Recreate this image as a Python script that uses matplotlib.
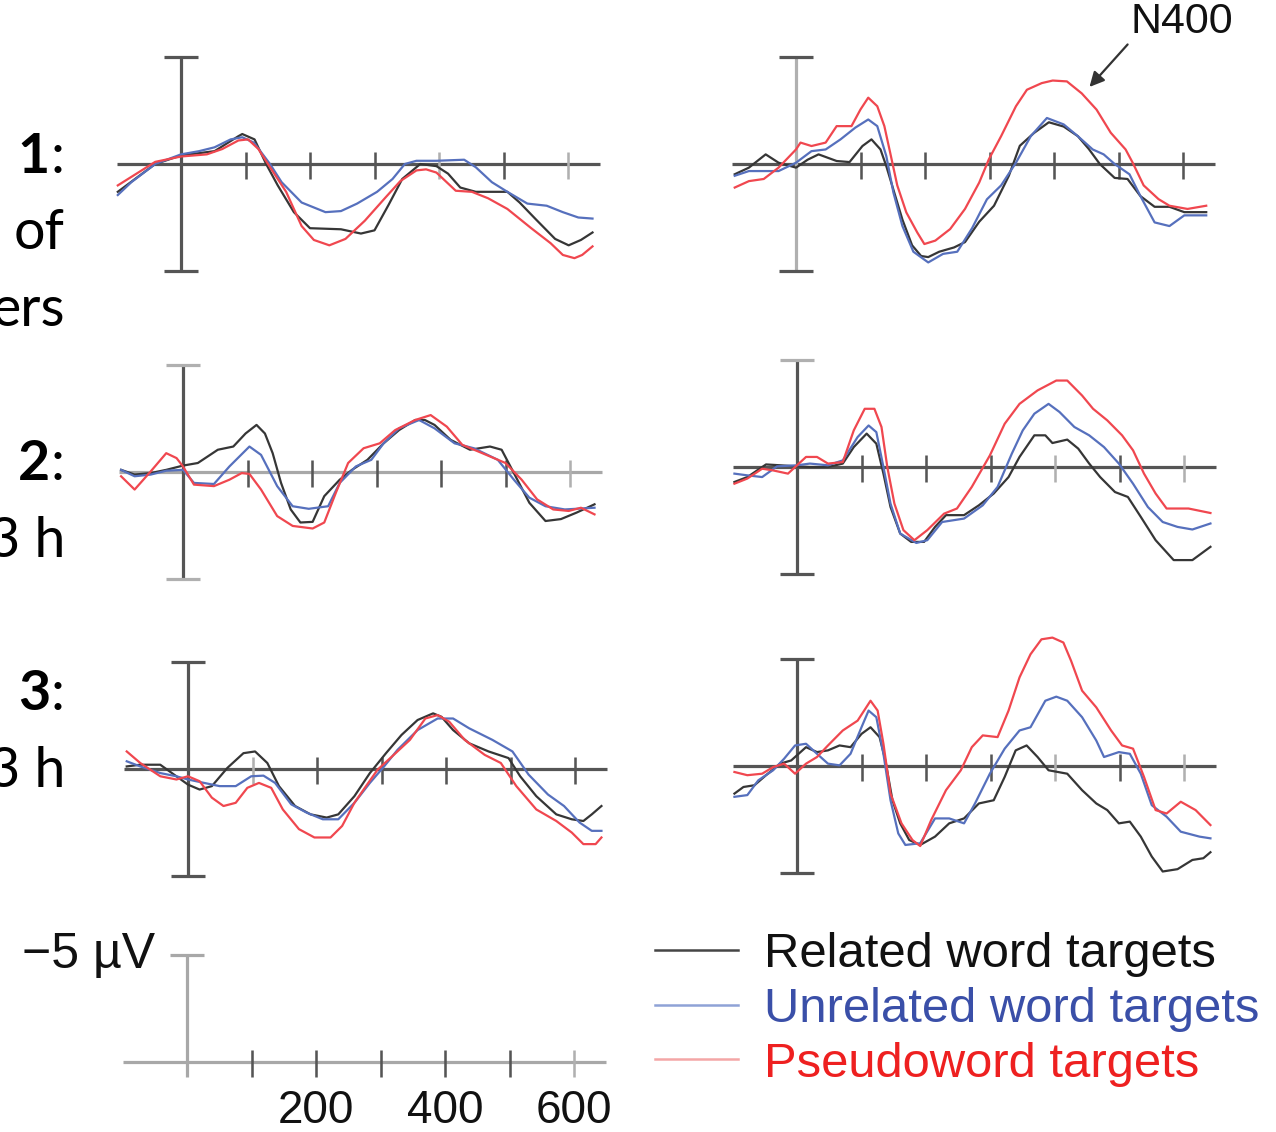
import matplotlib
matplotlib.use("Agg")
import matplotlib.pyplot as plt
from matplotlib.lines import Line2D

W, H, DPI = 1276, 1132, 100

# ---------------------------------------------------------------------------
# Grand-average ERP waveforms (time in ms, amplitude in µV; negative is up)
# Row 1 = session 1, row 2 = session 2, row 3 = session 3
# ---------------------------------------------------------------------------
# Session 1, left site
rel_1l_t = [-98, -40, 0, 52, 89, 95, 114, 132, 150, 175, 200, 248, 279, 300, 322, 343, 371, 396, 414, 433, 457, 506, 525, 549, 580, 601, 620, 638]
rel_1l_v = [1.3, 0, -0.4, -0.6, -1.3, -1.4, -1.15, 0, 1.0, 2.25, 3.0, 3.05, 3.25, 3.1, 1.9, 0.7, 0, 0.1, 0.45, 1.1, 1.3, 1.3, 1.8, 2.55, 3.5, 3.8, 3.55, 3.2]
unr_1l_t = [-98, -77, -40, 0, 28, 52, 77, 95, 113, 138, 156, 187, 224, 248, 273, 304, 328, 347, 365, 396, 439, 457, 482, 506, 537, 567, 592, 616, 638]
unr_1l_v = [1.45, 0.85, 0, -0.45, -0.6, -0.78, -1.15, -1.25, -1.0, 0, 0.85, 1.8, 2.25, 2.2, 1.85, 1.3, 0.7, 0, -0.15, -0.15, -0.2, 0.15, 0.85, 1.3, 1.85, 1.95, 2.25, 2.5, 2.55]
pse_1l_t = [-98, -70, -40, 0, 40, 64, 89, 104, 120, 138, 163, 187, 206, 230, 255, 285, 316, 340, 365, 380, 396, 426, 451, 476, 506, 543, 573, 592, 610, 622, 638]
pse_1l_v = [1.0, 0.47, -0.1, -0.35, -0.45, -0.7, -1.1, -1.15, -0.7, 0.15, 1.3, 2.9, 3.55, 3.8, 3.5, 2.65, 1.6, 0.8, 0.3, 0.25, 0.4, 1.25, 1.3, 1.6, 2.1, 3.0, 3.7, 4.25, 4.4, 4.25, 3.85]

# Session 1, right site
rel_1r_t = [-95, -73, -47, -27, 0, 18, 35, 63, 83, 103, 117, 131, 140, 151, 165, 180, 194, 205, 222, 245, 262, 284, 307, 330, 347, 369, 392, 415, 437, 454, 471, 494, 514, 534, 556, 579, 602, 636]
rel_1r_v = [0.48, 0.17, -0.45, -0.06, 0.17, -0.2, -0.45, -0.14, -0.09, -0.84, -1.15, -0.68, 0.1, 1.2, 2.6, 3.8, 4.3, 4.35, 4.1, 3.9, 3.65, 2.7, 1.95, 0.55, -0.85, -1.45, -1.95, -1.75, -1.3, -0.7, 0, 0.65, 0.7, 1.5, 2.0, 2.0, 2.25, 2.25]
unr_1r_t = [-95, -73, -50, -27, 0, 24, 46, 69, 92, 112, 126, 140, 151, 165, 182, 205, 228, 250, 273, 296, 318, 341, 364, 389, 415, 437, 460, 477, 494, 517, 534, 556, 579, 602, 636]
unr_1r_v = [0.55, 0.33, 0.33, 0.33, -0.06, -0.6, -0.68, -1.15, -1.7, -2.08, -1.77, -0.37, 1.33, 2.9, 4.1, 4.6, 4.2, 4.1, 3.0, 1.65, 1.0, -0.06, -1.3, -2.15, -1.85, -1.3, -0.68, -0.45, 0, 0.48, 1.5, 2.73, 2.9, 2.4, 2.4]
pse_1r_t = [-95, -73, -50, -27, 0, 7, 24, 46, 63, 86, 100, 112, 126, 137, 146, 157, 171, 188, 199, 216, 239, 262, 284, 299, 318, 341, 358, 381, 398, 420, 443, 466, 488, 511, 522, 539, 562, 579, 607, 636]
pse_1r_v = [1.1, 0.8, 0.7, 0.17, -0.68, -1.0, -0.84, -1.0, -1.77, -1.77, -2.55, -3.1, -2.7, -1.77, -0.53, 1.0, 2.26, 3.2, 3.74, 3.58, 3.04, 2.1, 0.87, -0.22, -1.3, -2.7, -3.47, -3.78, -3.9, -3.86, -3.3, -2.54, -1.46, -0.68, -0.06, 1.0, 1.64, 1.95, 2.1, 1.95]

# Session 2, left site
rel_2l_t = [-96, -75, -50, -26, 0, 23, 54, 78, 97, 114, 127, 139, 152, 167, 182, 201, 219, 243, 262, 286, 311, 335, 360, 375, 390, 415, 445, 476, 494, 513, 537, 562, 586, 610, 638]
rel_2l_v = [-0.1, 0.12, 0.05, -0.1, -0.3, -0.42, -1.04, -1.19, -1.8, -2.2, -1.8, -0.88, 0.51, 1.75, 2.36, 2.33, 1.13, 0.36, -0.1, -0.57, -1.34, -1.96, -2.43, -2.43, -2.2, -1.5, -1.04, -1.19, -1.04, 0.05, 1.44, 2.29, 2.2, 1.9, 1.51]
unr_2l_t = [-96, -75, -50, -26, 0, 17, 48, 72, 103, 121, 146, 170, 195, 225, 243, 268, 292, 311, 335, 366, 390, 421, 451, 488, 513, 537, 562, 592, 638]
unr_2l_v = [-0.1, 0.2, 0.12, -0.06, -0.1, 0.51, 0.56, -0.26, -1.19, -0.8, 0.66, 1.6, 1.72, 1.6, 0.51, -0.26, -0.57, -1.34, -2.04, -2.43, -2.04, -1.34, -1.11, -0.57, 0.36, 1.2, 1.6, 1.75, 1.67]
pse_2l_t = [-96, -75, -50, -26, -10, 0, 17, 48, 72, 91, 103, 121, 146, 170, 201, 219, 237, 256, 280, 305, 329, 360, 384, 409, 433, 464, 500, 525, 549, 574, 598, 617, 638]
pse_2l_v = [0.2, 0.82, -0.03, -0.88, -0.65, -0.26, 0.59, 0.66, 0.36, 0.05, 0.09, 0.82, 2.06, 2.52, 2.64, 2.36, 0.97, -0.42, -1.11, -1.34, -1.96, -2.43, -2.66, -2.12, -1.27, -0.88, -0.42, 0.36, 1.28, 1.75, 1.82, 1.67, 1.98]

# Session 2, right site
rel_2r_t = [-97, -77, -48, -26, 0, 20, 48, 71, 88, 108, 123, 134, 145, 160, 177, 197, 214, 231, 259, 282, 305, 328, 345, 368, 385, 396, 419, 436, 453, 470, 493, 513, 533, 556, 584, 613, 641]
rel_2r_v = [0.7, 0.47, -0.12, -0.08, -0.03, 0, 0, -0.16, -0.93, -1.56, -1.09, 0.31, 1.87, 3.11, 3.5, 3.5, 2.8, 2.25, 2.25, 1.79, 1.24, 0.47, -0.47, -1.48, -1.48, -1.12, -1.28, -0.86, -0.16, 0.47, 1.17, 1.4, 2.33, 3.42, 4.35, 4.35, 3.73]
unr_2r_t = [-97, -77, -54, -31, 0, 20, 48, 71, 94, 111, 123, 134, 145, 160, 185, 202, 225, 259, 288, 311, 333, 350, 368, 390, 407, 430, 453, 476, 499, 521, 544, 567, 590, 613, 641]
unr_2r_v = [0.31, 0.39, 0.47, -0.03, -0.08, -0.16, -0.08, -0.31, -1.4, -1.94, -1.63, 0, 1.71, 3.11, 3.55, 3.42, 2.57, 2.41, 1.79, 0.93, -0.62, -1.71, -2.49, -2.95, -2.57, -1.87, -1.48, -0.93, -0.16, 0.78, 1.87, 2.57, 2.8, 2.92, 2.64]
pse_2r_t = [-97, -77, -54, -37, -14, 0, 14, 31, 48, 71, 88, 105, 120, 131, 140, 151, 165, 182, 202, 228, 248, 271, 299, 322, 345, 373, 402, 419, 442, 459, 481, 504, 521, 538, 556, 573, 607, 641]
pse_2r_v = [0.78, 0.54, 0.08, 0.16, 0.31, -0.08, -0.47, -0.47, -0.16, -0.23, -1.71, -2.72, -2.72, -1.87, 0, 1.71, 2.95, 3.42, 2.95, 2.18, 1.94, 0.93, -0.54, -2.02, -2.95, -3.58, -4.04, -4.04, -3.34, -2.72, -2.18, -1.48, -0.78, 0.31, 1.24, 1.94, 1.94, 2.15]

# Session 3, left site
rel_3l_t = [-95, -74, -43, -18, 0, 18, 37, 61, 86, 104, 123, 141, 166, 190, 215, 233, 258, 282, 307, 331, 356, 380, 393, 411, 436, 466, 497, 515, 540, 571, 595, 613, 626, 641]
rel_3l_v = [-0.12, -0.2, -0.2, 0.34, 0.73, 0.96, 0.8, -0.05, -0.74, -0.82, -0.28, 0.8, 1.73, 2.12, 2.27, 2.12, 1.27, 0.19, -0.74, -1.59, -2.29, -2.6, -2.44, -1.82, -1.2, -0.82, -0.51, 0.34, 1.27, 2.12, 2.35, 2.43, 2.12, 1.73]
unr_3l_t = [-95, -74, -43, -18, 0, 25, 49, 74, 98, 117, 135, 160, 184, 209, 233, 258, 282, 304, 325, 356, 387, 411, 436, 472, 503, 528, 558, 583, 607, 626, 641]
unr_3l_v = [-0.36, -0.12, 0.19, 0.34, 0.49, 0.65, 0.8, 0.8, 0.34, 0.31, 0.65, 1.65, 2.04, 2.35, 2.35, 1.58, 0.65, -0.12, -0.9, -1.82, -2.36, -2.36, -1.9, -1.36, -0.82, 0.26, 1.19, 1.73, 2.5, 2.89, 2.89]
pse_3l_t = [-95, -74, -43, -18, 0, 18, 37, 55, 74, 92, 110, 129, 147, 172, 196, 221, 239, 258, 276, 294, 319, 344, 368, 387, 405, 429, 460, 485, 509, 540, 571, 595, 613, 632, 641]
pse_3l_v = [-0.82, -0.28, 0.34, 0.49, 0.34, 0.57, 1.34, 1.73, 1.58, 0.88, 0.65, 0.88, 1.89, 2.81, 3.2, 3.2, 2.66, 1.58, 0.8, 0.03, -0.66, -1.36, -2.36, -2.52, -2.21, -1.36, -0.66, -0.28, 0.8, 1.89, 2.43, 2.97, 3.51, 3.51, 3.2]

# Session 3, right site
rel_3r_t = [-97, -83, -66, -48, -26, -9, 14, 31, 48, 66, 83, 100, 114, 128, 137, 148, 160, 174, 191, 214, 236, 259, 282, 305, 322, 339, 356, 373, 390, 419, 442, 464, 481, 499, 516, 533, 550, 567, 590, 613, 630, 641]
rel_3r_v = [1.29, 0.98, 0.9, 0.43, -0.11, -0.26, -0.88, -0.65, -0.73, -0.96, -0.88, -1.5, -1.81, -1.35, -0.26, 1.6, 2.68, 3.46, 3.69, 3.3, 2.68, 2.45, 1.75, 1.6, 0.51, -0.73, -0.96, -0.42, 0.2, 0.36, 1.13, 1.75, 2.06, 2.68, 2.6, 3.3, 4.23, 4.93, 4.82, 4.39, 4.31, 4.03]
unr_3r_t = [-97, -77, -60, -37, -20, -3, 14, 31, 48, 66, 83, 100, 111, 123, 134, 145, 157, 168, 191, 214, 236, 259, 276, 299, 322, 345, 362, 385, 402, 419, 442, 464, 476, 499, 516, 533, 550, 573, 595, 624, 641]
unr_3r_v = [1.44, 1.36, 0.67, 0.2, -0.34, -0.96, -1.04, -0.57, -0.11, -0.03, -0.57, -1.81, -2.59, -2.28, -0.57, 1.6, 3.15, 3.69, 3.61, 2.45, 2.45, 2.68, 1.75, 0.36, -0.81, -1.66, -1.81, -3.05, -3.24, -3.05, -2.28, -1.19, -0.42, -0.65, -0.57, 0.36, 1.83, 2.37, 3.07, 3.3, 3.38]
pse_3r_t = [-97, -77, -54, -37, -20, -3, 14, 31, 48, 71, 94, 114, 125, 134, 145, 162, 179, 191, 208, 231, 254, 271, 288, 311, 328, 345, 362, 379, 396, 413, 425, 442, 464, 487, 504, 521, 538, 556, 573, 595, 618, 641]
pse_3r_v = [0.28, 0.43, 0.36, 0.05, -0.11, 0.36, -0.11, -0.42, -0.96, -1.66, -2.12, -3.05, -2.59, -1.04, 1.29, 2.68, 3.46, 3.74, 2.53, 1.13, 0.2, -0.88, -1.43, -1.35, -2.59, -4.14, -5.22, -5.92, -6.0, -5.77, -4.91, -3.52, -2.74, -1.66, -0.96, -0.81, 0.51, 2.06, 2.22, 1.67, 2.06, 2.76]

CONDITIONS = ["Related word targets", "Unrelated word targets", "Pseudoword targets"]
TICK_TIMES = [100, 200, 300, 400, 500, 600]
SCALE_LABEL_TIMES = [200, 400, 600]
SCALE_UV = 5

# ---------------------------------------------------------------------------
# Styling
# ---------------------------------------------------------------------------
CURVE_COLORS = ["#363636", "#5670bd", "#f0474f"]
LEGEND_LINE_COLORS = ["#454545", "#8fa2d6", "#f4a6a6"]
LEGEND_TEXT_COLORS = ["#111111", "#3a4fa8", "#ee2020"]
DARK = "#555555"
LIGHT = "#b0b0b0"
AX_LW = 2.3
CURVE_LW = 1.6

PX_PER_MS = 0.645
PX_PER_UV = 21.4
T_LO, T_HI = -130, 680
V_LO, V_HI = -7.0, 7.0
LINE_T0, LINE_T1 = -100, 650

plt.rcParams["font.family"] = ["Liberation Sans", "DejaVu Sans"]
fig = plt.figure(figsize=(W / DPI, H / DPI), dpi=DPI)
fig.patch.set_facecolor("white")


def panel_axes(x0, y0):
    """Axes whose time/voltage scale sits with t=0, V=0 at pixel (x0, y0)."""
    left = x0 + T_LO * PX_PER_MS
    width = (T_HI - T_LO) * PX_PER_MS
    top = y0 + V_LO * PX_PER_UV
    height = (V_HI - V_LO) * PX_PER_UV
    ax = fig.add_axes([left / W, 1 - (top + height) / H, width / W, height / H])
    ax.set_xlim(T_LO, T_HI)
    ax.set_ylim(V_HI, V_LO)  # negative up
    ax.axis("off")
    return ax


def draw_frame(ax, line_c=DARK, bar_c=DARK, top_cap_c=DARK, bot_cap_c=DARK,
               light_ticks=(), full=True):
    ax.plot([LINE_T0, LINE_T1], [0, 0], color=line_c, lw=AX_LW,
            solid_capstyle="butt", zorder=1)
    bar_bottom = SCALE_UV if full else 0.7
    ax.plot([0, 0], [-SCALE_UV, bar_bottom], color=bar_c, lw=AX_LW,
            solid_capstyle="butt", zorder=1)
    ax.plot([-26, 26], [-SCALE_UV, -SCALE_UV], color=top_cap_c, lw=AX_LW,
            solid_capstyle="butt", zorder=1)
    if full:
        ax.plot([-26, 26], [SCALE_UV, SCALE_UV], color=bot_cap_c, lw=AX_LW,
                solid_capstyle="butt", zorder=1)
    for t in TICK_TIMES:
        c = LIGHT if t in light_ticks else DARK
        ax.plot([t, t], [-0.55, 0.7], color=c, lw=AX_LW * 0.8,
                solid_capstyle="butt", zorder=1)


def draw_curves(ax, series):
    for (t, v), c in zip(series, CURVE_COLORS):
        ax.plot(t, v, color=c, lw=CURVE_LW, solid_joinstyle="round", zorder=3)


# Panel placement (t=0 / 0 µV origin, figure pixels) and frame styles
panels = [
    ((181, 164), dict(light_ticks=(400, 600)),
     [(rel_1l_t, rel_1l_v), (unr_1l_t, unr_1l_v), (pse_1l_t, pse_1l_v)]),
    ((796, 164), dict(bar_c=LIGHT),
     [(rel_1r_t, rel_1r_v), (unr_1r_t, unr_1r_v), (pse_1r_t, pse_1r_v)]),
    ((183, 472), dict(line_c="#a8a8a8", top_cap_c=LIGHT, bot_cap_c=LIGHT, light_ticks=(600,)),
     [(rel_2l_t, rel_2l_v), (unr_2l_t, unr_2l_v), (pse_2l_t, pse_2l_v)]),
    ((797, 467), dict(top_cap_c=LIGHT, light_ticks=(400, 600)),
     [(rel_2r_t, rel_2r_v), (unr_2r_t, unr_2r_v), (pse_2r_t, pse_2r_v)]),
    ((188, 769), dict(light_ticks=(100,)),
     [(rel_3l_t, rel_3l_v), (unr_3l_t, unr_3l_v), (pse_3l_t, pse_3l_v)]),
    ((797, 766), dict(light_ticks=(400, 600)),
     [(rel_3r_t, rel_3r_v), (unr_3r_t, unr_3r_v), (pse_3r_t, pse_3r_v)]),
]

axes = []
for origin, style, series in panels:
    ax = panel_axes(*origin)
    draw_frame(ax, **style)
    draw_curves(ax, series)
    axes.append(ax)

# N400 annotation on the session-1 right panel
axes[1].annotate("N400", xy=(455, -3.6), xytext=(518, -6.65),
                 fontsize=31, color="#111111", ha="left", va="center",
                 annotation_clip=False,
                 arrowprops=dict(arrowstyle="-|>", color="#333333", lw=1.6,
                                 mutation_scale=22, shrinkA=0, shrinkB=0,
                                 relpos=(0.0, 0.0)))

# Calibration panel
sax = panel_axes(187, 1062)
draw_frame(sax, line_c="#a8a8a8", bar_c="#a8a8a8", top_cap_c="#a8a8a8",
           light_ticks=(600,), full=False)
for t in SCALE_LABEL_TIMES:
    sax.text(t, 2.3, str(t), fontsize=33, color="#111111", ha="center", va="center")
sax.text(-50, -SCALE_UV, f"\u2212{SCALE_UV} \u00b5V", fontsize=36, color="#111111",
         ha="right", va="center")

# Legend
handles = [Line2D([], [], color=c, lw=1.8) for c in LEGEND_LINE_COLORS]
leg = fig.legend(handles, CONDITIONS, loc="upper left",
                 bbox_to_anchor=(655 / W, 1 - 932 / H), frameon=False,
                 fontsize=35.3, handlelength=1.7, handletextpad=0.53,
                 labelspacing=0.2, borderpad=0, borderaxespad=0)
for txt, c in zip(leg.get_texts(), LEGEND_TEXT_COLORS):
    txt.set_color(c)

# Row labels (partially outside the left edge)
LBL = dict(fontsize=40, color="black", family=["Lato", "DejaVu Sans"], ha="right", va="baseline")
row_labels = [("1", 173, ["of", "ers"], [249, 326]),
              ("2", 480, ["3 h"], [557]),
              ("3", 710, ["3 h"], [787])]
for num, base, extra, extra_base in row_labels:
    fig.text(50 / W, 1 - base / H, num, fontweight="bold", **LBL)
    fig.text(64 / W, 1 - base / H, ":", **LBL)
    for s, b in zip(extra, extra_base):
        fig.text(65 / W, 1 - b / H, s, **LBL)

fig.savefig("out.png", dpi=DPI, facecolor="white")
